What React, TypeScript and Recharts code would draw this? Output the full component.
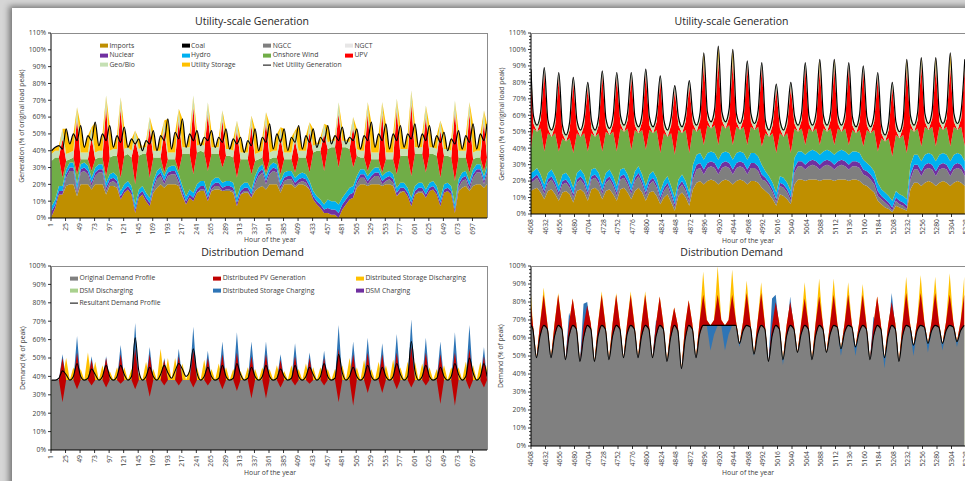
import React from "react";
import { ComposedChart, Area, Line, XAxis, YAxis } from "recharts";

// ---------- axes ----------
const TICKS_JAN = [1, 25, 49, 73, 97, 121, 145, 169, 193, 217, 241, 265, 289, 313, 337, 361, 385, 409, 433, 457, 481, 505, 529, 553, 577, 601, 625, 649, 673, 697];
const TICKS_JUL = [4608, 4632, 4656, 4680, 4704, 4728, 4752, 4776, 4800, 4824, 4848, 4872, 4896, 4920, 4944, 4968, 4992, 5016, 5040, 5064, 5088, 5112, 5136, 5160, 5184, 5208, 5232, 5256, 5280, 5304, 5328];
const PCT_GEN = [0, 10, 20, 30, 40, 50, 60, 70, 80, 90, 100, 110];
const PCT_DIST = [0, 10, 20, 30, 40, 50, 60, 70, 80, 90, 100];

// sample hours: 4 per day (6 h apart)
const sampleHours = (lead: number[], first: number, tail: number[]) => [
  ...lead,
  ...Array.from({ length: 120 }, (_, i) => first + 6 * i),
  ...tail,
];
const HOURS_JAN = sampleHours([], 2, [721]);
const HOURS_JUL_GEN = sampleHours([4608], 4612, []);
const HOURS_JUL_DIST = sampleHours([4608], 4611, []);

// ---------- utility-scale generation, hours 1-720 ----------
const tlImports = [
  1, 6, 14, 14, 19, 20, 20, 13, 20, 20, 20, 17, 20, 20, 20, 14, 19, 19, 18, 11,
  15, 17, 14, 3, 12, 14, 10, 7, 15, 18, 20, 18, 20, 20, 20, 19, 13, 8, 12, 10,
  15, 16, 16, 10, 16, 17, 17, 16, 16, 16, 15, 7, 14, 15, 15, 12, 16, 18, 19, 17,
  20, 20, 20, 15, 20, 20, 20, 18, 20, 20, 19, 17, 11, 8, 6, 3, 3, 2, 2, 0,
  5, 8, 11, 12, 18, 20, 20, 19, 20, 20, 20, 19, 20, 20, 19, 13, 15, 16, 13, 7,
  14, 15, 15, 12, 16, 17, 14, 7, 15, 16, 14, 3, 16, 18, 19, 16, 19, 20, 20, 18,
  20,
];
const tlNgcc = [
  0, 0, 0, 0, 5, 8, 8, 2, 7, 8, 6, 2, 5, 7, 7, 2, 2, 3, 2, 0,
  0, 0, 0, 0, 0, 0, 0, 0, 2, 5, 5, 2, 5, 6, 6, 2, 1, 0, 0, 0,
  0, 1, 1, 0, 1, 2, 2, 0, 1, 1, 1, 0, 0, 1, 1, 0, 4, 7, 8, 3,
  6, 8, 7, 2, 2, 3, 3, 1, 1, 2, 2, 0, 0, 0, 0, 0, 0, 0, 0, 0,
  0, 0, 0, 0, 2, 4, 4, 1, 3, 5, 5, 1, 2, 3, 2, 0, 1, 0, 0, 0,
  0, 1, 1, 0, 0, 0, 0, 0, 0, 0, 0, 0, 2, 4, 4, 1, 5, 7, 7, 2,
  6,
];
const tlNuclear = [
  3, 2, 2, 2, 2, 2, 2, 2, 2, 2, 2, 2, 2, 2, 2, 2, 2, 2, 2, 2,
  2, 2, 2, 2, 2, 2, 2, 2, 2, 2, 2, 2, 2, 2, 2, 2, 2, 2, 2, 2,
  2, 2, 2, 2, 2, 2, 2, 2, 2, 2, 2, 2, 2, 2, 2, 2, 2, 2, 2, 2,
  2, 2, 2, 2, 2, 2, 2, 2, 2, 2, 2, 2, 2, 2, 2, 2, 3, 3, 3, 3,
  3, 3, 3, 3, 2, 2, 2, 2, 2, 2, 2, 2, 2, 2, 2, 2, 2, 2, 2, 2,
  2, 2, 2, 2, 2, 2, 2, 2, 2, 2, 2, 2, 2, 2, 2, 2, 2, 2, 2, 2,
  2,
];
const tlHydro = [
  3, 3, 3, 3, 3, 3, 3, 3, 3, 3, 3, 3, 3, 3, 3, 3, 3, 3, 3, 3,
  3, 3, 3, 3, 3, 3, 3, 3, 3, 3, 3, 3, 3, 3, 3, 3, 3, 3, 3, 3,
  3, 3, 3, 3, 3, 3, 3, 3, 3, 3, 3, 3, 3, 3, 3, 3, 3, 3, 3, 3,
  3, 3, 3, 3, 3, 3, 3, 3, 3, 3, 3, 3, 3, 3, 3, 3, 5, 5, 5, 5,
  4, 4, 4, 4, 3, 3, 3, 3, 3, 3, 3, 3, 3, 3, 3, 3, 3, 3, 3, 3,
  3, 3, 3, 3, 3, 3, 3, 3, 3, 3, 3, 3, 3, 3, 3, 3, 3, 3, 3, 3,
  3,
];
const tlWind = [
  27, 25, 17, 5, 5, 2, 3, 6, 3, 2, 4, 4, 5, 4, 4, 4, 10, 10, 12, 8,
  17, 16, 17, 12, 20, 19, 23, 12, 14, 8, 6, 2, 5, 4, 4, 2, 19, 25, 21, 11,
  19, 18, 17, 13, 16, 14, 14, 9, 15, 15, 15, 12, 16, 14, 14, 9, 9, 5, 4, 2,
  4, 3, 4, 4, 8, 7, 7, 3, 10, 9, 10, 5, 23, 27, 29, 20, 30, 32, 32, 22,
  30, 27, 23, 11, 12, 7, 7, 3, 7, 5, 5, 2, 8, 7, 9, 8, 16, 16, 19, 13,
  19, 17, 17, 10, 17, 16, 18, 12, 17, 16, 17, 14, 13, 9, 8, 5, 6, 4, 4, 3,
  5,
];
const tlUpv = [
  0, 0, 0, 23, 0, 0, 0, 33, 0, 0, 0, 20, 0, 0, 0, 41, 0, 0, 0, 41,
  0, 0, 0, 26, 0, 0, 0, 30, 0, 0, 0, 25, 0, 0, 0, 30, 0, 0, 0, 40,
  0, 0, 0, 34, 0, 0, 0, 28, 0, 0, 0, 28, 0, 0, 0, 29, 0, 0, 0, 30,
  0, 0, 0, 22, 0, 0, 0, 19, 0, 0, 0, 24, 0, 0, 0, 22, 0, 0, 0, 32,
  0, 0, 0, 24, 0, 0, 0, 34, 0, 0, 0, 35, 0, 0, 0, 38, 0, 0, 0, 43,
  0, 0, 0, 33, 0, 0, 0, 28, 0, 0, 0, 41, 0, 0, 0, 35, 0, 0, 0, 29,
  0,
];
const tlGeo = [
  4, 4, 4, 6, 4, 4, 4, 7, 4, 4, 4, 6, 4, 4, 4, 7, 4, 4, 4, 7,
  4, 4, 4, 6, 4, 4, 4, 6, 4, 4, 4, 6, 4, 4, 4, 7, 4, 4, 4, 7,
  4, 4, 4, 7, 4, 4, 4, 6, 4, 4, 4, 6, 4, 4, 4, 6, 4, 4, 4, 6,
  4, 4, 4, 6, 4, 4, 4, 6, 4, 4, 4, 6, 4, 4, 4, 6, 4, 4, 4, 7,
  4, 4, 4, 6, 4, 4, 4, 7, 4, 4, 4, 7, 4, 4, 4, 7, 4, 4, 4, 8,
  4, 4, 4, 7, 4, 4, 4, 6, 4, 4, 4, 7, 4, 4, 4, 7, 4, 4, 4, 7,
  4,
];
const tlStorage = [
  2, 2, 3, 0, 15, 5, 10, 0, 16, 3, 10, 0, 18, 3, 10, 0, 15, 1, 8, 0,
  13, 0, 7, 0, 6, 0, 4, 0, 12, 0, 9, 0, 20, 2, 12, 0, 17, 0, 8, 0,
  9, 0, 5, 0, 10, 0, 6, 0, 12, 0, 7, 0, 9, 0, 7, 0, 15, 1, 8, 0,
  17, 1, 10, 0, 14, 1, 9, 0, 15, 1, 9, 0, 10, 0, 4, 0, 10, 0, 3, 0,
  8, 0, 3, 0, 12, 1, 9, 0, 18, 3, 11, 0, 17, 2, 11, 0, 14, 1, 9, 0,
  14, 0, 8, 0, 13, 0, 8, 0, 10, 0, 7, 0, 12, 1, 9, 0, 17, 1, 10, 0,
  16,
];
const tlNet = [
  40, 42, 43, 41, 53, 44, 50, 46, 55, 42, 49, 46, 57, 43, 50, 46, 55, 42, 49, 45,
  54, 42, 47, 44, 47, 40, 46, 44, 52, 40, 49, 46, 59, 41, 51, 47, 59, 42, 50, 46,
  52, 43, 48, 46, 52, 42, 48, 45, 53, 41, 47, 44, 48, 39, 46, 43, 53, 40, 48, 45,
  56, 41, 50, 45, 53, 40, 48, 45, 55, 41, 49, 45, 53, 42, 48, 45, 55, 44, 49, 46,
  54, 44, 48, 46, 53, 41, 49, 46, 57, 42, 50, 46, 56, 41, 50, 46, 55, 42, 50, 47,
  56, 42, 50, 46, 55, 42, 49, 45, 51, 40, 47, 44, 52, 41, 49, 45, 56, 41, 50, 46,
  56,
];

// ---------- utility-scale generation, hours 4608-5327 ----------
const trImports = [
  14,
  15, 16, 13, 9, 14, 15, 12, 8, 13, 14, 12, 7, 14, 15, 13, 8, 15, 16, 14, 9,
  14, 15, 12, 8, 15, 16, 13, 9, 14, 16, 13, 8, 13, 14, 11, 6, 10, 12, 7, 2,
  11, 13, 10, 5, 15, 19, 20, 18, 20, 21, 20, 18, 20, 21, 20, 18, 20, 21, 20, 18,
  20, 20, 19, 16, 14, 12, 9, 5, 12, 11, 9, 6, 18, 21, 21, 20, 21, 21, 21, 20,
  21, 21, 21, 20, 21, 21, 21, 20, 21, 21, 20, 18, 17, 15, 13, 8, 6, 4, 3, 1,
  5, 4, 3, 2, 15, 19, 19, 17, 19, 20, 19, 17, 19, 20, 19, 17, 19, 20, 19, 17,
];
const trNgcc = [
  5,
  5, 6, 5, 3, 5, 6, 5, 3, 5, 5, 4, 3, 5, 6, 5, 3, 6, 6, 5, 3,
  5, 6, 5, 3, 6, 6, 5, 3, 6, 7, 5, 3, 5, 6, 5, 2, 4, 5, 4, 2,
  4, 5, 4, 2, 6, 8, 8, 6, 8, 8, 8, 6, 8, 8, 8, 6, 8, 8, 8, 6,
  8, 8, 7, 5, 6, 5, 4, 2, 5, 5, 4, 2, 7, 8, 8, 7, 8, 9, 8, 7,
  8, 9, 8, 7, 8, 9, 8, 7, 8, 8, 8, 6, 6, 6, 5, 3, 3, 3, 2, 1,
  3, 2, 2, 1, 6, 8, 8, 6, 8, 8, 8, 6, 8, 8, 8, 6, 8, 8, 8, 6,
];
const trNuclear = [
  2,
  2, 2, 2, 2, 2, 2, 2, 2, 2, 2, 2, 2, 2, 2, 2, 2, 2, 2, 2, 2,
  2, 2, 2, 2, 2, 2, 2, 2, 2, 2, 2, 2, 2, 2, 2, 2, 2, 2, 2, 2,
  2, 2, 2, 2, 3, 3, 3, 3, 3, 3, 3, 3, 3, 3, 3, 3, 3, 3, 3, 3,
  3, 3, 3, 3, 2, 2, 2, 2, 2, 2, 2, 2, 3, 3, 3, 3, 3, 3, 3, 3,
  3, 3, 3, 3, 3, 3, 3, 3, 3, 3, 3, 3, 3, 3, 3, 3, 2, 2, 2, 2,
  2, 2, 2, 2, 3, 3, 3, 3, 3, 3, 3, 3, 3, 3, 3, 3, 3, 3, 3, 3,
];
const trHydro = [
  4,
  4, 4, 4, 4, 4, 4, 4, 4, 4, 4, 4, 4, 4, 4, 4, 4, 4, 4, 4, 4,
  4, 4, 4, 4, 4, 4, 4, 4, 4, 4, 4, 4, 4, 4, 4, 4, 4, 4, 4, 4,
  4, 4, 4, 4, 6, 6, 6, 6, 6, 6, 6, 6, 6, 6, 6, 6, 6, 6, 6, 6,
  6, 6, 6, 6, 4, 4, 4, 4, 4, 4, 4, 4, 6, 6, 6, 6, 6, 6, 6, 6,
  6, 6, 6, 6, 6, 6, 6, 6, 6, 6, 6, 6, 5, 5, 5, 5, 4, 4, 4, 4,
  4, 4, 4, 4, 6, 6, 6, 6, 6, 6, 6, 6, 6, 6, 6, 6, 6, 6, 6, 6,
];
const trWind = [
  15,
  26, 22, 28, 20, 24, 20, 26, 21, 22, 19, 24, 21, 24, 20, 25, 21, 22, 19, 24, 20,
  25, 21, 27, 21, 25, 22, 28, 21, 25, 20, 27, 22, 27, 23, 29, 23, 29, 24, 32, 26,
  30, 25, 31, 24, 22, 14, 15, 9, 17, 14, 17, 9, 17, 14, 17, 9, 16, 13, 16, 9,
  16, 14, 18, 11, 23, 24, 30, 24, 26, 25, 30, 23, 18, 12, 14, 6, 14, 11, 14, 6,
  14, 11, 14, 6, 14, 11, 14, 6, 13, 11, 14, 8, 20, 20, 25, 19, 31, 31, 35, 27,
  34, 34, 37, 28, 22, 14, 16, 9, 17, 14, 17, 9, 17, 14, 17, 9, 17, 14, 17, 9,
];
const trUpv = [
  42,
  3, 0, 5, 48, 3, 0, 5, 45, 3, 0, 5, 43, 3, 0, 5, 39, 3, 0, 5, 46,
  3, 0, 5, 45, 3, 0, 5, 44, 3, 0, 5, 46, 3, 0, 5, 44, 3, 0, 5, 39,
  3, 0, 5, 41, 3, 0, 5, 49, 3, 0, 5, 51, 3, 0, 5, 50, 3, 0, 5, 48,
  3, 0, 5, 48, 3, 0, 5, 39, 3, 0, 5, 40, 3, 0, 5, 47, 3, 0, 5, 46,
  3, 0, 5, 47, 3, 0, 5, 47, 3, 0, 5, 46, 3, 0, 5, 45, 3, 0, 5, 42,
  3, 0, 5, 51, 3, 0, 5, 49, 3, 0, 5, 48, 3, 0, 5, 48, 3, 0, 5, 48,
];
const trGeo = [
  4,
  5, 4, 5, 3, 5, 4, 5, 3, 5, 4, 5, 3, 5, 4, 5, 3, 5, 4, 5, 3,
  5, 4, 5, 3, 5, 4, 5, 3, 5, 4, 5, 3, 5, 4, 5, 3, 5, 4, 5, 3,
  5, 4, 5, 3, 5, 4, 5, 3, 5, 4, 5, 3, 5, 4, 5, 3, 5, 4, 5, 3,
  5, 4, 5, 3, 5, 4, 5, 3, 5, 4, 5, 3, 5, 4, 5, 3, 5, 4, 5, 3,
  5, 4, 5, 3, 5, 4, 5, 3, 5, 4, 5, 3, 5, 4, 5, 3, 5, 4, 5, 3,
  5, 4, 5, 3, 5, 4, 5, 3, 5, 4, 5, 3, 5, 4, 5, 3, 5, 4, 5, 3,
];
const trStorage = [
  2,
  0, 0, 0, 0, 0, 0, 0, 0, 0, 0, 0, 0, 0, 0, 0, 0, 0, 0, 0, 0,
  0, 0, 0, 0, 0, 0, 0, 0, 0, 0, 0, 0, 0, 0, 0, 0, 0, 0, 0, 0,
  0, 0, 0, 0, 0, 0, 0, 4, 0, 0, 0, 6, 0, 0, 0, 5, 0, 0, 0, 0,
  0, 0, 0, 0, 0, 0, 0, 0, 0, 0, 0, 0, 0, 0, 0, 0, 0, 0, 0, 3,
  0, 0, 0, 2, 0, 0, 0, 0, 0, 0, 0, 0, 0, 0, 0, 0, 0, 0, 0, 0,
  0, 0, 0, 3, 0, 0, 0, 2, 0, 0, 0, 3, 0, 0, 0, 6, 0, 0, 0, 2,
];
const trNet = [
  88,
  60, 54, 62, 89, 57, 51, 59, 86, 54, 48, 56, 83, 57, 51, 59, 80, 57, 51, 59, 87,
  58, 52, 60, 86, 60, 54, 62, 86, 59, 53, 61, 88, 59, 53, 61, 84, 57, 51, 59, 78,
  59, 53, 61, 81, 60, 54, 62, 98, 62, 56, 64, 102, 62, 56, 64, 100, 61, 55, 63, 93,
  61, 55, 63, 92, 57, 51, 59, 79, 57, 51, 59, 80, 60, 54, 62, 92, 60, 54, 62, 94,
  60, 54, 62, 94, 60, 54, 62, 92, 59, 53, 61, 90, 59, 53, 61, 86, 54, 48, 56, 80,
  56, 50, 58, 94, 60, 54, 62, 95, 61, 55, 63, 95, 61, 55, 63, 98, 61, 55, 63, 94,
];

// ---------- distribution demand, hours 1-720 (visible top of each band) ----------
const blDemand = [
  38, 38, 38, 38, 38, 38, 38, 38, 38, 38, 38, 38, 38, 38, 38, 38, 38, 38, 38, 38,
  38, 38, 38, 38, 38, 38, 38, 38, 38, 38, 38, 38, 38, 38, 38, 38, 38, 38, 38, 38,
  38, 38, 38, 38, 38, 38, 38, 38, 38, 38, 38, 38, 38, 38, 38, 38, 38, 38, 38, 38,
  38, 38, 38, 38, 38, 38, 38, 38, 38, 38, 38, 38, 38, 38, 38, 38, 38, 38, 38, 38,
  38, 38, 38, 38, 38, 38, 38, 38, 38, 38, 38, 38, 38, 38, 38, 38, 38, 38, 38, 38,
  38, 38, 38, 38, 38, 38, 38, 38, 38, 38, 38, 38, 38, 38, 38, 38, 38, 38, 38, 38,
  38,
];
const blNet = [
  38, 38, 39, 43, 41, 38, 40, 47, 40, 38, 39, 44, 41, 38, 40, 46, 40, 38, 40, 46,
  41, 38, 40, 61, 43, 38, 40, 45, 40, 38, 41, 46, 42, 39, 43, 47, 44, 40, 43, 55,
  42, 38, 40, 45, 40, 38, 39, 46, 40, 38, 39, 47, 41, 38, 39, 45, 40, 38, 40, 46,
  40, 38, 39, 44, 40, 38, 39, 46, 40, 38, 40, 45, 41, 38, 40, 47, 40, 38, 39, 52,
  42, 38, 40, 45, 40, 38, 40, 46, 40, 38, 39, 45, 40, 38, 40, 47, 41, 38, 40, 59,
  43, 38, 40, 46, 40, 38, 39, 45, 40, 38, 40, 47, 41, 38, 40, 50, 42, 38, 40, 47,
  40,
];
const blPvLow = [
  38, 38, 38, 26, 38, 38, 38, 33, 38, 38, 38, 35, 38, 38, 38, 34, 38, 38, 38, 36,
  38, 38, 38, 33, 38, 38, 38, 29, 38, 38, 38, 35, 38, 38, 38, 35, 38, 38, 38, 34,
  38, 38, 38, 35, 38, 38, 38, 33, 38, 38, 38, 32, 38, 38, 38, 28, 38, 38, 38, 28,
  38, 38, 38, 34, 38, 38, 38, 35, 38, 38, 38, 36, 38, 38, 38, 35, 38, 38, 38, 26,
  38, 38, 38, 24, 38, 38, 38, 31, 38, 38, 38, 31, 38, 38, 38, 33, 38, 38, 38, 34,
  38, 38, 38, 35, 38, 38, 38, 25, 38, 38, 38, 24, 38, 38, 38, 33, 38, 38, 38, 34,
  38,
];
const blPvHigh = [
  38, 38, 38, 50, 38, 38, 38, 53, 38, 38, 38, 49, 38, 38, 38, 50, 38, 38, 38, 52,
  38, 38, 38, 55, 38, 38, 38, 52, 38, 38, 38, 49, 38, 38, 38, 51, 38, 38, 38, 54,
  38, 38, 38, 50, 38, 38, 38, 52, 38, 38, 38, 53, 38, 38, 38, 51, 38, 38, 38, 52,
  38, 38, 38, 49, 38, 38, 38, 51, 38, 38, 38, 50, 38, 38, 38, 50, 38, 38, 38, 55,
  38, 38, 38, 52, 38, 38, 38, 53, 38, 38, 38, 52, 38, 38, 38, 53, 38, 38, 38, 56,
  38, 38, 38, 53, 38, 38, 38, 52, 38, 38, 38, 53, 38, 38, 38, 55, 38, 38, 38, 51,
  38,
];
const blDischarge = [
  38, 38, 38, 38, 50, 38, 45, 38, 44, 38, 53, 38, 48, 38, 46, 38, 43, 38, 45, 38,
  45, 38, 44, 38, 42, 38, 48, 38, 44, 38, 55, 38, 50, 38, 50, 38, 47, 38, 44, 38,
  45, 38, 49, 38, 44, 38, 47, 38, 45, 38, 44, 38, 43, 38, 45, 38, 44, 38, 45, 38,
  44, 38, 46, 38, 43, 38, 46, 38, 44, 38, 47, 38, 45, 38, 45, 38, 44, 38, 44, 38,
  46, 38, 50, 38, 45, 38, 49, 38, 44, 38, 48, 38, 46, 38, 49, 38, 45, 38, 48, 38,
  48, 38, 47, 38, 45, 38, 44, 38, 46, 38, 45, 38, 45, 38, 48, 38, 46, 38, 48, 38,
  46,
];
const blCharge = [
  38, 38, 38, 52, 38, 38, 38, 62, 38, 38, 38, 51, 38, 38, 38, 51, 38, 38, 38, 57,
  38, 38, 38, 69, 38, 38, 38, 56, 38, 38, 38, 50, 38, 38, 38, 55, 38, 38, 38, 67,
  38, 38, 38, 54, 38, 38, 38, 59, 38, 38, 38, 64, 38, 38, 38, 59, 38, 38, 38, 59,
  38, 38, 38, 52, 38, 38, 38, 58, 38, 38, 38, 53, 38, 38, 38, 54, 38, 38, 38, 68,
  38, 38, 38, 59, 38, 38, 38, 61, 38, 38, 38, 58, 38, 38, 38, 63, 38, 38, 38, 71,
  38, 38, 38, 61, 38, 38, 38, 59, 38, 38, 38, 64, 38, 38, 38, 68, 38, 38, 38, 56,
  38,
];

// ---------- distribution demand, hours 4608-5327 ----------
const brNet = [
  67,
  65, 49, 61, 67, 65, 49, 61, 67, 65, 48, 61, 67, 65, 47, 60, 67, 65, 47, 61, 67,
  65, 48, 61, 67, 65, 49, 62, 67, 65, 49, 61, 67, 65, 49, 61, 67, 65, 47, 60, 67,
  64, 43, 59, 67, 65, 49, 62, 67, 67, 67, 67, 67, 67, 67, 67, 67, 67, 57, 64, 67,
  66, 51, 62, 67, 65, 47, 61, 67, 65, 48, 61, 67, 65, 52, 62, 67, 65, 48, 61, 67,
  65, 52, 62, 67, 66, 54, 63, 67, 66, 55, 63, 67, 65, 48, 61, 67, 65, 49, 61, 67,
  65, 47, 61, 67, 66, 56, 64, 67, 66, 57, 64, 67, 66, 57, 64, 67, 66, 58, 64, 67,
];
const brDemand = [
  67,
  65, 49, 61, 67, 65, 49, 61, 67, 65, 48, 61, 67, 65, 47, 60, 67, 65, 47, 61, 67,
  65, 48, 61, 67, 65, 49, 62, 67, 65, 49, 61, 67, 65, 49, 61, 67, 65, 47, 60, 67,
  64, 43, 59, 67, 65, 49, 62, 67, 67, 53, 62, 67, 67, 53, 62, 67, 67, 55, 64, 67,
  66, 50, 62, 67, 65, 47, 61, 67, 65, 45, 61, 67, 65, 52, 62, 67, 65, 48, 61, 67,
  65, 52, 62, 67, 66, 50, 63, 67, 66, 50, 63, 67, 65, 48, 61, 67, 65, 43, 61, 67,
  65, 47, 61, 67, 66, 50, 64, 67, 66, 52, 64, 67, 66, 53, 64, 67, 66, 55, 64, 67,
];
const brCharge = [
  67,
  65, 49, 61, 67, 65, 49, 61, 67, 65, 48, 74, 67, 65, 47, 79, 80, 65, 47, 61, 67,
  65, 48, 61, 67, 65, 49, 62, 67, 65, 49, 61, 67, 65, 49, 70, 67, 65, 47, 60, 67,
  64, 43, 59, 67, 65, 49, 62, 67, 67, 67, 67, 67, 67, 67, 67, 67, 67, 57, 64, 67,
  66, 51, 62, 67, 65, 47, 82, 84, 65, 48, 61, 83, 65, 52, 62, 67, 65, 48, 61, 67,
  65, 52, 62, 67, 66, 54, 63, 67, 66, 55, 63, 67, 65, 48, 72, 67, 65, 49, 61, 85,
  65, 47, 61, 67, 66, 56, 64, 67, 66, 57, 64, 67, 66, 57, 64, 67, 66, 58, 64, 67,
];
const brPvHigh = [
  78,
  68, 49, 68, 84, 68, 49, 68, 84, 68, 48, 68, 82, 68, 47, 67, 78, 68, 47, 68, 84,
  68, 48, 68, 84, 68, 49, 68, 84, 68, 49, 68, 84, 68, 49, 68, 83, 68, 47, 66, 77,
  67, 43, 67, 81, 68, 49, 69, 84, 70, 67, 70, 84, 70, 67, 70, 84, 70, 57, 69, 85,
  69, 51, 69, 85, 68, 47, 67, 80, 68, 48, 67, 80, 68, 52, 68, 82, 68, 48, 68, 83,
  68, 52, 68, 84, 68, 54, 68, 84, 68, 55, 68, 84, 68, 48, 68, 83, 68, 49, 67, 80,
  68, 47, 68, 85, 69, 56, 69, 85, 69, 57, 69, 85, 69, 57, 69, 84, 69, 58, 69, 84,
];
const brDischarge = [
  84,
  68, 49, 68, 88, 68, 49, 68, 85, 68, 48, 68, 82, 68, 47, 67, 78, 68, 47, 68, 86,
  68, 48, 68, 85, 68, 49, 68, 86, 68, 49, 68, 86, 68, 49, 68, 83, 68, 47, 66, 77,
  67, 43, 67, 81, 68, 49, 69, 97, 70, 67, 70, 100, 70, 67, 70, 98, 70, 57, 69, 92,
  69, 51, 69, 91, 68, 47, 67, 80, 68, 48, 67, 80, 68, 52, 68, 91, 68, 48, 68, 93,
  68, 52, 68, 93, 68, 54, 68, 91, 68, 55, 68, 90, 68, 48, 68, 83, 68, 49, 67, 80,
  68, 47, 68, 94, 69, 56, 69, 95, 69, 57, 69, 94, 69, 57, 69, 96, 69, 58, 69, 94,
];

// ---------- styling ----------
const FONT = '"Open Sans", "DejaVu Sans", sans-serif';
const TXT = "#404040";
const TICK_FS = 6.8;

const GEN_SERIES = [
  { key: "imports", label: "Imports", color: "#bf8f00" },
  { key: "ngcc", label: "NGCC", color: "#7f7f7f" },
  { key: "nuclear", label: "Nuclear", color: "#7030a0" },
  { key: "hydro", label: "Hydro", color: "#00b0f0" },
  { key: "wind", label: "Onshore Wind", color: "#70ad47" },
  { key: "upv", label: "UPV", color: "#ff0000" },
  { key: "geo", label: "Geo/Bio", color: "#c5e0b4" },
  { key: "storage", label: "Utility Storage", color: "#ffc000" },
];

const GEN_LEGEND = [
  { label: "Imports", color: "#bf8f00" },
  { label: "Coal", color: "#000000" },
  { label: "NGCC", color: "#7f7f7f" },
  { label: "NGCT", color: "#e7e6e6" },
  { label: "Nuclear", color: "#7030a0" },
  { label: "Hydro", color: "#00b0f0" },
  { label: "Onshore Wind", color: "#70ad47" },
  { label: "UPV", color: "#ff0000" },
  { label: "Geo/Bio", color: "#c5e0b4" },
  { label: "Utility Storage", color: "#ffc000" },
  { label: "Net Utility Generation", color: "#000000", line: true },
];

const DIST_LEGEND = [
  { label: "Original Demand Profile", color: "#808080" },
  { label: "Distributed PV Generation", color: "#c00000" },
  { label: "Distributed Storage Discharging", color: "#ffc000" },
  { label: "DSM Discharging", color: "#a9d18e" },
  { label: "Distributed Storage Charging", color: "#2e75b6" },
  { label: "DSM Charging", color: "#7030a0" },
  { label: "Resultant Demand Profile", color: "#000000", line: true },
];

const buildRows = (hours: number[], cols: Record<string, number[]>) =>
  hours.map((h, i) => {
    const r: Record<string, any> = { h };
    Object.keys(cols).forEach((k) => (r[k] = cols[k][i] ?? 0));
    return r;
  });

const genJan = buildRows(HOURS_JAN, {
  imports: tlImports, ngcc: tlNgcc, nuclear: tlNuclear, hydro: tlHydro, wind: tlWind,
  upv: tlUpv, geo: tlGeo, storage: tlStorage, net: tlNet,
});
const genJul = buildRows(HOURS_JUL_GEN, {
  imports: trImports, ngcc: trNgcc, nuclear: trNuclear, hydro: trHydro, wind: trWind,
  upv: trUpv, geo: trGeo, storage: trStorage, net: trNet,
});
const distJan = buildRows(HOURS_JAN, {
  demand: blDemand, dis: blDischarge, chg: blCharge, net: blNet,
}).map((r, i) => ({ ...r, pv: [blPvLow[i], blPvHigh[i]] }));
const distJul = buildRows(HOURS_JUL_DIST, {
  demand: brDemand, dis: brDischarge, chg: brCharge, net: brNet,
}).map((r, i) => ({ ...r, pv: [brNet[i], brPvHigh[i]] }));

// ---------- ticks ----------
const XTick = (props: any) => {
  const { x, y, payload } = props;
  const ty = y + 5;
  return (
    <g>
      <line x1={x} x2={x} y1={y} y2={y + 3} stroke="#000" strokeWidth={0.8} />
      <text x={x} y={ty} dy="0.35em" textAnchor="end" transform={`rotate(-90 ${x} ${ty})`}
        fontSize={TICK_FS} fill={TXT} fontFamily={FONT}>
        {payload.value}
      </text>
    </g>
  );
};

const YTick = (props: any) => {
  const { x, y, payload } = props;
  const v = payload.value;
  const major = v % 10 === 0;
  return (
    <g>
      <line x1={x - (major ? 3 : 2)} x2={x} y1={y} y2={y} stroke="#000" strokeWidth={0.8} />
      {major && (
        <text x={x - 5} y={y} dy="0.35em" textAnchor="end" fontSize={TICK_FS} fill={TXT} fontFamily={FONT}>
          {v}%
        </text>
      )}
    </g>
  );
};

const minorTicks = (max: number) => Array.from({ length: max / 2 + 1 }, (_, i) => i * 2);

type ChartBox = { width: number; height: number; top: number; right: number; xHeight: number };

function GenChart({ data, ticks, domain, box, minor }: { data: any[]; ticks: number[]; domain: [number, number]; box: ChartBox; minor?: boolean }) {
  return (
    <ComposedChart width={box.width} height={box.height} data={data}
      margin={{ top: box.top, right: box.right, bottom: 0, left: 0 }}>
      <XAxis dataKey="h" type="number" domain={domain} ticks={ticks} interval={0} allowDataOverflow
        height={box.xHeight} tickSize={0} tickMargin={0} tickLine={false} tick={(p: any) => <XTick {...p} />}
        axisLine={{ stroke: "#000", strokeWidth: 1 }} />
      <YAxis type="number" domain={[0, 110]} ticks={minor ? minorTicks(110) : PCT_GEN} interval={0} allowDataOverflow
        width={51} tickSize={0} tickMargin={0} tickLine={false} tick={(p: any) => <YTick {...p} />}
        axisLine={{ stroke: "#000", strokeWidth: 1 }} />
      {GEN_SERIES.map((s) => (
        <Area key={s.key} dataKey={s.key} name={s.label} stackId="gen" type="linear" fill={s.color}
          fillOpacity={1} stroke="none" dot={false} activeDot={false} isAnimationActive={false} />
      ))}
      <Line dataKey="net" name="Net Utility Generation" type="monotone" stroke="#000" strokeWidth={1.2}
        dot={false} activeDot={false} isAnimationActive={false} />
    </ComposedChart>
  );
}

function DistChart({ data, ticks, domain, box, minor }: { data: any[]; ticks: number[]; domain: [number, number]; box: ChartBox; minor?: boolean }) {
  const common = { type: "linear" as const, fillOpacity: 1, stroke: "none", dot: false, activeDot: false, isAnimationActive: false };
  return (
    <ComposedChart width={box.width} height={box.height} data={data}
      margin={{ top: box.top, right: box.right, bottom: 0, left: 0 }}>
      <XAxis dataKey="h" type="number" domain={domain} ticks={ticks} interval={0} allowDataOverflow
        height={box.xHeight} tickSize={0} tickMargin={0} tickLine={false} tick={(p: any) => <XTick {...p} />}
        axisLine={{ stroke: "#000", strokeWidth: 1 }} />
      <YAxis type="number" domain={[0, 100]} ticks={minor ? minorTicks(100) : PCT_DIST} interval={0} allowDataOverflow
        width={51} tickSize={0} tickMargin={0} tickLine={false} tick={(p: any) => <YTick {...p} />}
        axisLine={{ stroke: "#000", strokeWidth: 1 }} />
      <Area dataKey="dis" name="Distributed Storage Discharging" fill="#ffc000" {...common} />
      <Area dataKey="chg" name="Distributed Storage Charging" fill="#2e75b6" {...common} />
      <Area dataKey="demand" name="Original Demand Profile" fill="#808080" {...common} />
      <Area dataKey="pv" name="Distributed PV Generation" fill="#c00000" {...common} />
      <Line dataKey="net" name="Resultant Demand Profile" type="monotone" stroke="#000" strokeWidth={1.1}
        dot={false} activeDot={false} isAnimationActive={false} />
    </ComposedChart>
  );
}

// ---------- html text helpers ----------
const Abs = ({ x, y, size, children, rotate, color }: { x: number; y: number; size: number; children: React.ReactNode; rotate?: boolean; color?: string }) => (
  <div style={{
    position: "absolute", left: x, top: y, whiteSpace: "nowrap", fontSize: size, lineHeight: 1,
    color: color ?? TXT, transform: `translate(-50%, -50%)${rotate ? " rotate(-90deg)" : ""}`,
  }}>
    {children}
  </div>
);

function LegendBlock({ items, cols, rows }: { items: { label: string; color: string; line?: boolean }[]; cols: number[]; rows: number[] }) {
  return (
    <>
      {items.map((it, i) => (
        <div key={it.label} style={{
          position: "absolute", left: cols[i % cols.length], top: rows[Math.floor(i / cols.length)],
          transform: "translateY(-50%)", display: "flex", alignItems: "center", whiteSpace: "nowrap",
          fontSize: TICK_FS, lineHeight: 1, color: TXT,
        }}>
          <span style={{ display: "inline-block", width: 8, height: it.line ? 1 : 4, background: it.color, marginRight: 1.4 }} />
          {it.label}
        </div>
      ))}
    </>
  );
}

const Frame = ({ x, y, w, h }: { x: number; y: number; w: number; h: number }) => (
  <div style={{ position: "absolute", left: x, top: y, width: w, height: h, borderTop: "1px solid #8c8c8c", borderRight: "1px solid #8c8c8c", boxSizing: "border-box", pointerEvents: "none" }} />
);

export default function App() {
  return (
    <div style={{ position: "fixed", left: 0, top: 0, width: 965, height: 481, overflow: "hidden", background: "#d6d6d6", fontFamily: FONT }}>
      <div style={{ position: "absolute", left: 12, top: 8, width: 1100, height: 600, background: "#fff", boxShadow: "-2px -1px 6px 1px rgba(0,0,0,0.45)" }} />

      <div style={{ position: "absolute", left: 0, top: 0 }}>
        <GenChart data={genJan} ticks={TICKS_JAN} domain={[1, 721]}
          box={{ width: 497, height: 247, top: 33, right: 10, xHeight: 29 }} />
      </div>
      <div style={{ position: "absolute", left: 480, top: 0 }}>
        <GenChart data={genJul} ticks={TICKS_JUL} domain={[4608, 5328]} minor
          box={{ width: 486, height: 247, top: 33, right: 0, xHeight: 33 }} />
      </div>
      <div style={{ position: "absolute", left: 0, top: 245 }}>
        <DistChart data={distJan} ticks={TICKS_JAN} domain={[1, 721]}
          box={{ width: 497, height: 236, top: 21, right: 10, xHeight: 31 }} />
      </div>
      <div style={{ position: "absolute", left: 480, top: 245 }}>
        <DistChart data={distJul} ticks={TICKS_JUL} domain={[4608, 5328]} minor
          box={{ width: 486, height: 236, top: 21, right: 0, xHeight: 35 }} />
      </div>

      <Frame x={51} y={33} w={437} h={185} />
      <Frame x={531} y={33} w={436} h={181} />
      <Frame x={51} y={266} w={437} h={184} />
      <Frame x={531} y={266} w={436} h={180} />

      <Abs x={252} y={20.7} size={10.5} color="#262626">Utility-scale Generation</Abs>
      <Abs x={731.5} y={20.7} size={10.5} color="#262626">Utility-scale Generation</Abs>
      <Abs x={252.5} y={251.7} size={10.5} color="#262626">Distribution Demand</Abs>
      <Abs x={731.7} y={251.7} size={10.5} color="#262626">Distribution Demand</Abs>

      <Abs x={270} y={240} size={TICK_FS}>Hour of the year</Abs>
      <Abs x={748} y={240.5} size={TICK_FS}>Hour of the year</Abs>
      <Abs x={270} y={473} size={TICK_FS}>Hour of the year</Abs>
      <Abs x={748} y={473} size={TICK_FS}>Hour of the year</Abs>

      <Abs x={21.7} y={125.5} size={TICK_FS} rotate>Generation (% of original load peak)</Abs>
      <Abs x={502} y={123.5} size={TICK_FS} rotate>Generation (% of original load peak)</Abs>
      <Abs x={22.5} y={358} size={TICK_FS} rotate>Demand (% of peak)</Abs>
      <Abs x={501} y={356} size={TICK_FS} rotate>Demand (% of peak)</Abs>

      <LegendBlock items={GEN_LEGEND} cols={[100, 181.7, 263.3, 345]} rows={[46, 55.3, 65]} />
      <LegendBlock items={DIST_LEGEND} cols={[70, 213.3, 356]} rows={[278.3, 290.7, 303.3]} />
    </div>
  );
}
